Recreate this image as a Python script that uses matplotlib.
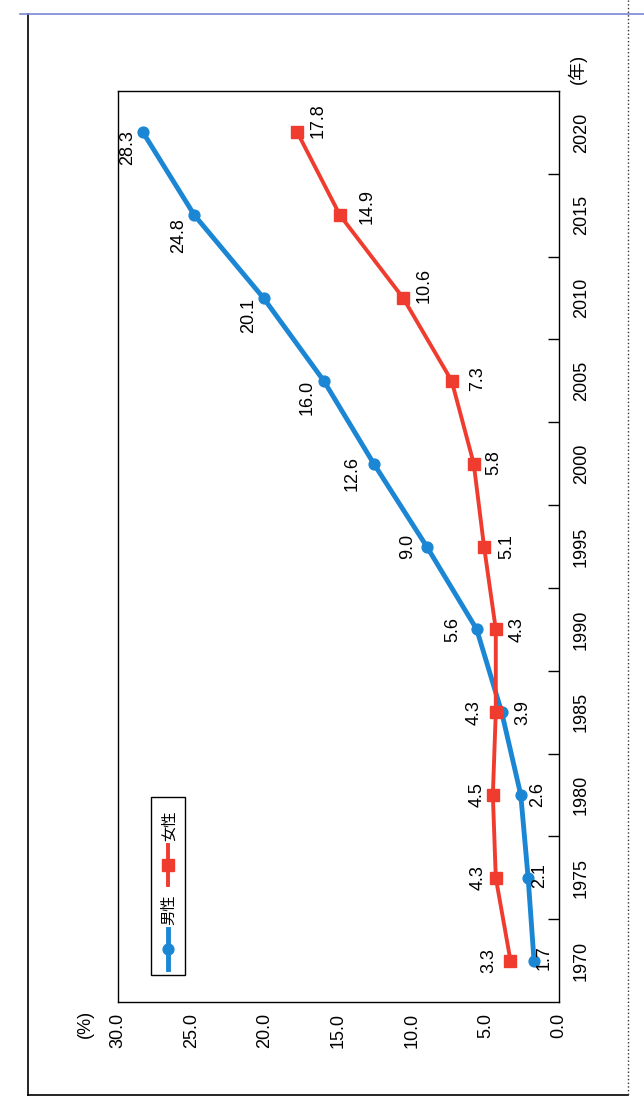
import matplotlib
matplotlib.use("Agg")
import matplotlib.pyplot as plt
from matplotlib.lines import Line2D
from matplotlib.patches import Rectangle

plt.rcParams['font.family'] = ['Liberation Sans', 'Noto Sans CJK JP']

# survey years and rates (%)
years = [1970, 1975, 1980, 1985, 1990, 1995, 2000, 2005, 2010, 2015, 2020]
men = [1.7, 2.1, 2.6, 3.9, 5.6, 9.0, 12.6, 16.0, 20.1, 24.8, 28.3]
women = [3.3, 4.3, 4.5, 4.3, 4.3, 5.1, 5.8, 7.3, 10.6, 14.9, 17.8]
value_ticks = [0, 5, 10, 15, 20, 25, 30]
series_names = ['男性', '女性']

# label offsets in pixels (dx right, dy up)
men_offsets = [(10, 3), (11, 2), (17, 0), (21, 0), (-24, 0), (-19, 0),
               (-22, -10), (-17, -17), (-15, -17), (-16, -20), (-15, -15)]
women_offsets = [(-22, 0), (-18, 0), (-16, 0), (-22, 0), (21, 0), (23, 0),
                 (20, 1), (26, 2), (21, 13), (27, 9), (21, 12)]

BLUE = '#1b87d4'
RED = '#f03c2e'
FS = 13

fig = plt.figure(figsize=(6.44, 11.2), dpi=100)
ax = fig.add_axes([118 / 644, 1 - 1002 / 1120, 441 / 644, 911 / 1120])

pos = list(range(len(years)))
ax.plot(men, pos, color=BLUE, lw=3.5, marker='o', ms=7.8, mec=BLUE, mfc=BLUE, zorder=3)
ax.plot(women, pos, color=RED, lw=2.8, marker='s', ms=8, mec=RED, mfc=RED, zorder=3)

for v, p, off in zip(men, pos, men_offsets):
    ax.annotate(f'{v:.1f}', (v, p), xytext=off, textcoords='offset pixels',
                rotation=90, ha='center', va='center', fontsize=FS)
for v, p, off in zip(women, pos, women_offsets):
    ax.annotate(f'{v:.1f}', (v, p), xytext=off, textcoords='offset pixels',
                rotation=90, ha='center', va='center', fontsize=FS)

ax.set_xlim(30, 0)
ax.set_ylim(-0.5, len(years) - 0.5)
ax.set_xticks(value_ticks)
ax.set_xticklabels([f'{t:.1f}' for t in value_ticks], rotation=90, fontsize=FS)
ax.tick_params(axis='x', length=0, pad=8)

ax.yaxis.tick_right()
ax.set_yticks(pos)
ax.set_yticklabels([str(y) for y in years], rotation=90, va='center', fontsize=FS)
ax.set_yticks([p + 0.5 for p in pos[:-1]], minor=True)
ax.tick_params(axis='y', which='major', length=0, pad=10)
ax.tick_params(axis='y', which='minor', length=8, width=1, direction='in')

for s in ax.spines.values():
    s.set_linewidth(1.0)

ax.text(1.02, 1.008, '(年)', transform=ax.transAxes, rotation=90,
        ha='left', va='bottom', fontsize=FS)
ax.text(-0.075, -0.0088, '(%)', transform=ax.transAxes, rotation=90,
        ha='center', va='top', fontsize=FS)

# legend box, drawn sideways like the rest of the chart
lx0, lx1 = 0.075, 0.152
ly0, ly1 = 0.03, 0.225
ax.add_patch(Rectangle((lx0, ly0), lx1 - lx0, ly1 - ly0, transform=ax.transAxes,
                       fill=True, fc='white', ec='black', lw=1.0, zorder=4))
lxc = (lx0 + lx1) / 2
h = 1 / 911
y = ly0 + 6 * h
for name, col, mk, lw, ms in [(series_names[0], BLUE, 'o', 3.5, 7.8),
                               (series_names[1], RED, 's', 2.8, 8)]:
    ax.plot([lxc, lxc], [y, y + 40 * h], color=col, lw=lw, transform=ax.transAxes,
            zorder=5, clip_on=False)
    ax.plot([lxc], [y + 20 * h], marker=mk, ms=ms, color=col, transform=ax.transAxes,
            zorder=6, clip_on=False)
    ax.text(lxc + 0.003, y + 44 * h, name, transform=ax.transAxes, rotation=90,
            ha='center', va='bottom', fontsize=11, zorder=6)
    y += 44 * h + 40 * h

# page frame around the figure
fig.add_artist(Line2D([28 / 644, 28 / 644], [1 - 14 / 1120, 1 - 1095 / 1120],
                      transform=fig.transFigure, color='black', lw=1.2))
fig.add_artist(Line2D([28 / 644, 628 / 644], [1 - 1095 / 1120, 1 - 1095 / 1120],
                      transform=fig.transFigure, color='black', lw=1.2))
fig.add_artist(Line2D([20 / 644, 644 / 644], [1 - 14 / 1120, 1 - 14 / 1120],
                      transform=fig.transFigure, color='#7a86d4', lw=1.2))
fig.add_artist(Line2D([628 / 644, 628 / 644], [1.0, 1 - 1095 / 1120],
                      transform=fig.transFigure, color='#333333', lw=1.0, ls=':'))

fig.savefig('out.png', dpi=100)
